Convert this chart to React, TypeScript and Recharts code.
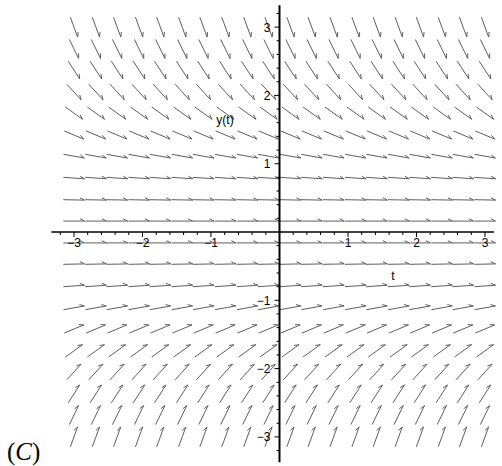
import { ComposedChart, Line, Scatter, XAxis, YAxis, ReferenceLine } from "recharts";

// direction field grid (columns in t, rows in y)
const T_GRID = [-3, -2.68, -2.37, -2.05, -1.74, -1.42, -1.11, -0.79, -0.47, -0.16, 0.16, 0.47, 0.79, 1.11, 1.42, 1.74, 2.05, 2.37, 2.68, 3];
const Y_GRID = [-3, -2.68, -2.37, -2.05, -1.74, -1.42, -1.11, -0.79, -0.47, -0.16, 0.16, 0.47, 0.79, 1.11, 1.42, 1.74, 2.05, 2.37, 2.68, 3];
// slope dy/dt (same for every column)
const ROW_SLOPES = [2.75, 2.05, 1.55, 1.1, 0.72, 0.42, 0.18, 0.07, 0.02, 0, 0, -0.02, -0.07, -0.18, -0.42, -0.72, -1.1, -1.55, -2.05, -2.75];

const T_TICKS = [-3, -2, -1, 1, 2, 3];
const T_LABELS = ["\u22123", "\u22122", "\u22121", "1", "2", "3"];
const Y_TICKS = [-3, -2, -1, 1, 2, 3];
const Y_LABELS = ["\u22123", "\u22122", "\u22121", "1", "2", "3"];

const W = 502;
const H = 466;
const X_DOMAIN = [-4.08, 3.248];
const Y_DOMAIN = [-3.426, 3.397];

const HALF = 0.155;
const BARB = 0.075;
const BARB_ANGLE = (26 * Math.PI) / 180;
const ARROW_COLOR = "#5e5e5e";
const FONT = "'Liberation Sans', Arial, sans-serif";

const arrowPts: { x: number; y: number | null }[] = [];
Y_GRID.forEach((y, i) => {
  const a = Math.atan(ROW_SLOPES[i]);
  const dx = Math.cos(a);
  const dy = Math.sin(a);
  T_GRID.forEach((t) => {
    const tipX = t + HALF * dx;
    const tipY = y + HALF * dy;
    const bx = tipX + BARB * (-dx * Math.cos(BARB_ANGLE) - dy * Math.sin(BARB_ANGLE));
    const by = tipY + BARB * (-dy * Math.cos(BARB_ANGLE) + dx * Math.sin(BARB_ANGLE));
    arrowPts.push({ x: t - HALF * dx, y: y - HALF * dy });
    arrowPts.push({ x: tipX, y: tipY });
    arrowPts.push({ x: bx, y: by });
    arrowPts.push({ x: bx, y: null });
  });
});

const xMinor: { x: number; y: number }[] = [];
for (let k = -16; k <= 15; k++) if (k % 5 !== 0) xMinor.push({ x: k / 5, y: 0 });
const yMinor: { x: number; y: number }[] = [];
for (let k = -16; k <= 16; k++) if (k % 5 !== 0) yMinor.push({ x: 0, y: k / 5 });

const xMajor = T_TICKS.map((t, i) => ({ x: t, y: 0, label: T_LABELS[i] }));
const yMajor = Y_TICKS.map((v, i) => ({ x: 0, y: v, label: Y_LABELS[i] }));

const XMinorTick = (p: any) => <line x1={p.cx} y1={p.cy} x2={p.cx} y2={p.cy + 3} stroke="#000" strokeWidth={1} />;
const YMinorTick = (p: any) => <line x1={p.cx} y1={p.cy} x2={p.cx - 3} y2={p.cy} stroke="#000" strokeWidth={1} />;

const XMajorTick = (p: any) => (
  <g>
    <line x1={p.cx} y1={p.cy} x2={p.cx} y2={p.cy + 5} stroke="#000" strokeWidth={1} />
    <text x={p.cx} y={p.cy + 15} textAnchor="middle" fontSize={12} fontFamily={FONT} fill="#000">
      {p.payload.label}
    </text>
  </g>
);
const YMajorTick = (p: any) => (
  <g>
    <line x1={p.cx} y1={p.cy} x2={p.cx - 5} y2={p.cy} stroke="#000" strokeWidth={1} />
    <text x={p.cx - 9} y={p.cy + 4.5} textAnchor="end" fontSize={12} fontFamily={FONT} fill="#000">
      {p.payload.label}
    </text>
  </g>
);

export default function App() {
  return (
    <div style={{ position: "absolute", left: 0, top: 0, width: W, height: H, background: "#fff" }}>
      <ComposedChart width={W} height={H} margin={{ top: 0, right: 0, bottom: 0, left: 0 }}>
        <XAxis type="number" dataKey="x" domain={X_DOMAIN} allowDataOverflow hide />
        <YAxis type="number" dataKey="y" domain={Y_DOMAIN} allowDataOverflow hide />
        <Line
          data={arrowPts}
          dataKey="y"
          type="linear"
          stroke={ARROW_COLOR}
          strokeWidth={1}
          dot={false}
          activeDot={false}
          connectNulls={false}
          isAnimationActive={false}
        />
        <ReferenceLine segment={[{ x: -3.33, y: 0 }, { x: 3.13, y: 0 }]} stroke="#000" strokeWidth={1.5} />
        <ReferenceLine segment={[{ x: 0, y: 3.32 }, { x: 0, y: -3.37 }]} stroke="#000" strokeWidth={2} />
        <Scatter data={xMinor} dataKey="y" shape={XMinorTick} isAnimationActive={false} />
        <Scatter data={yMinor} dataKey="y" shape={YMinorTick} isAnimationActive={false} />
        <Scatter data={xMajor} dataKey="y" shape={XMajorTick} isAnimationActive={false} />
        <Scatter data={yMajor} dataKey="y" shape={YMajorTick} isAnimationActive={false} />
      </ComposedChart>
      <svg width={W} height={H} style={{ position: "absolute", left: 0, top: 0, pointerEvents: "none" }}>
        <text x={225} y={124} textAnchor="middle" fontSize={12} fontFamily={FONT} fill="#000">y(t)</text>
        <text x={393} y={280} textAnchor="middle" fontSize={12} fontFamily={FONT} fill="#000">t</text>
        <text x={7} y={460} fontSize={25} fontFamily="'Liberation Serif', serif" fill="#000">
          (<tspan fontStyle="italic">C</tspan>)
        </text>
      </svg>
    </div>
  );
}
